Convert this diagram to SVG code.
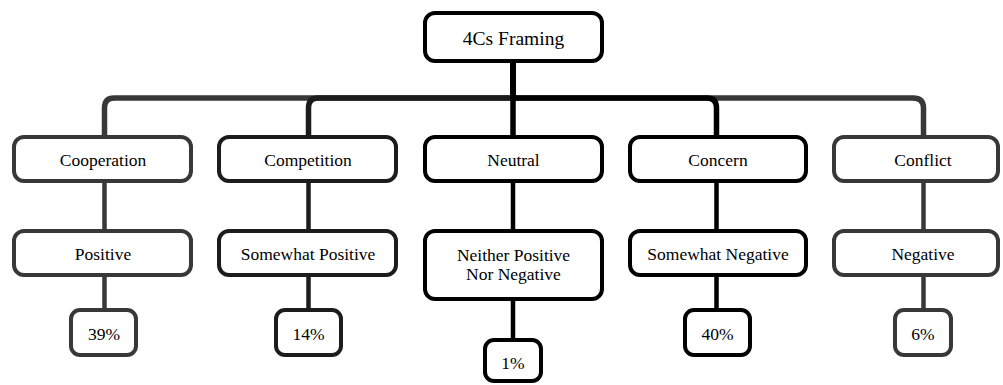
<svg xmlns="http://www.w3.org/2000/svg" width="1003" height="385" viewBox="0 0 1003 385">
<style>
.box{fill:#fff;stroke-width:4}
.ln{fill:none;stroke-width:5.5;stroke-linejoin:round}
.g{stroke:#383838}
.d{stroke:#1c1c1c}
.k{stroke:#000}
text{font-family:"Liberation Serif","Times New Roman",Times,"DejaVu Serif","Noto Serif",serif;font-size:17.5px;text-anchor:middle;fill:#000}
</style>
<rect width="1003" height="385" fill="#fff"/>
<g id="connectors">
<path class="ln g" d="M513,61 V98 H114 Q104.5,98 104.5,108 V137"/>
<path class="ln g" d="M513,61 V98 H913 Q923.5,98 923.5,108 V137"/>
<path class="ln d" d="M513,61 V98 H318 Q308.5,98 308.5,108 V137"/>
<path class="ln k" d="M513,61 V98 H707 Q716.5,98 716.5,108 V137"/>
<path class="ln k" d="M513,61 V137"/>
<path class="ln g" d="M104.5,181 V231 M104.5,277 V310 M923.5,181 V231 M923.5,277 V310" style="stroke-width:4.5"/>
<path class="ln d" d="M308.5,181 V231 M308.5,277 V310" style="stroke-width:4.5"/>
<path class="ln k" d="M513,181 V231 M513,299 V340 M716.5,181 V231 M716.5,277 V310" style="stroke-width:4.5"/>
</g>
<g id="root">
<rect class="box k" x="425" y="13" width="177" height="48" rx="10"/>
<text x="513.5" y="45" style="font-size:19.5px">4Cs Framing</text>
</g>
<g id="cooperation">
<rect class="box g" x="14" y="137" width="177" height="44" rx="10"/>
<text x="103" y="166">Cooperation</text>
</g>
<g id="competition">
<rect class="box d" x="219" y="137" width="177" height="44" rx="10"/>
<text x="308" y="166">Competition</text>
</g>
<g id="neutral">
<rect class="box k" x="425" y="137" width="177" height="44" rx="10"/>
<text x="513.5" y="166">Neutral</text>
</g>
<g id="concern">
<rect class="box k" x="630" y="137" width="176" height="44" rx="10"/>
<text x="718" y="166">Concern</text>
</g>
<g id="conflict">
<rect class="box g" x="834" y="137" width="164" height="44" rx="10"/>
<text x="923" y="166">Conflict</text>
</g>
<g id="positive">
<rect class="box g" x="14" y="231" width="177" height="44" rx="10"/>
<text x="103" y="260">Positive</text>
</g>
<g id="somewhat-positive">
<rect class="box d" x="219" y="231" width="177" height="44" rx="10"/>
<text x="308" y="260">Somewhat Positive</text>
</g>
<g id="neither">
<rect class="box k" x="425" y="231" width="177" height="68" rx="10"/>
<text x="513.5" y="261">Neither Positive</text>
<text x="513.5" y="280">Nor Negative</text>
</g>
<g id="somewhat-negative">
<rect class="box k" x="630" y="231" width="176" height="44" rx="10"/>
<text x="718" y="260">Somewhat Negative</text>
</g>
<g id="negative">
<rect class="box g" x="834" y="231" width="164" height="44" rx="10"/>
<text x="923" y="260">Negative</text>
</g>
<g id="p39">
<rect class="box g" x="71" y="310" width="65" height="45" rx="9"/>
<text x="104" y="340">39%</text>
</g>
<g id="p14">
<rect class="box d" x="276" y="310" width="65" height="45" rx="9"/>
<text x="308.5" y="340">14%</text>
</g>
<g id="p1">
<rect class="box k" x="485" y="340" width="56" height="41" rx="9"/>
<text x="513" y="369">1%</text>
</g>
<g id="p40">
<rect class="box k" x="685" y="310" width="65" height="45" rx="9"/>
<text x="717.5" y="340">40%</text>
</g>
<g id="p6">
<rect class="box g" x="895" y="310" width="56" height="45" rx="9"/>
<text x="923" y="340">6%</text>
</g>
</svg>
